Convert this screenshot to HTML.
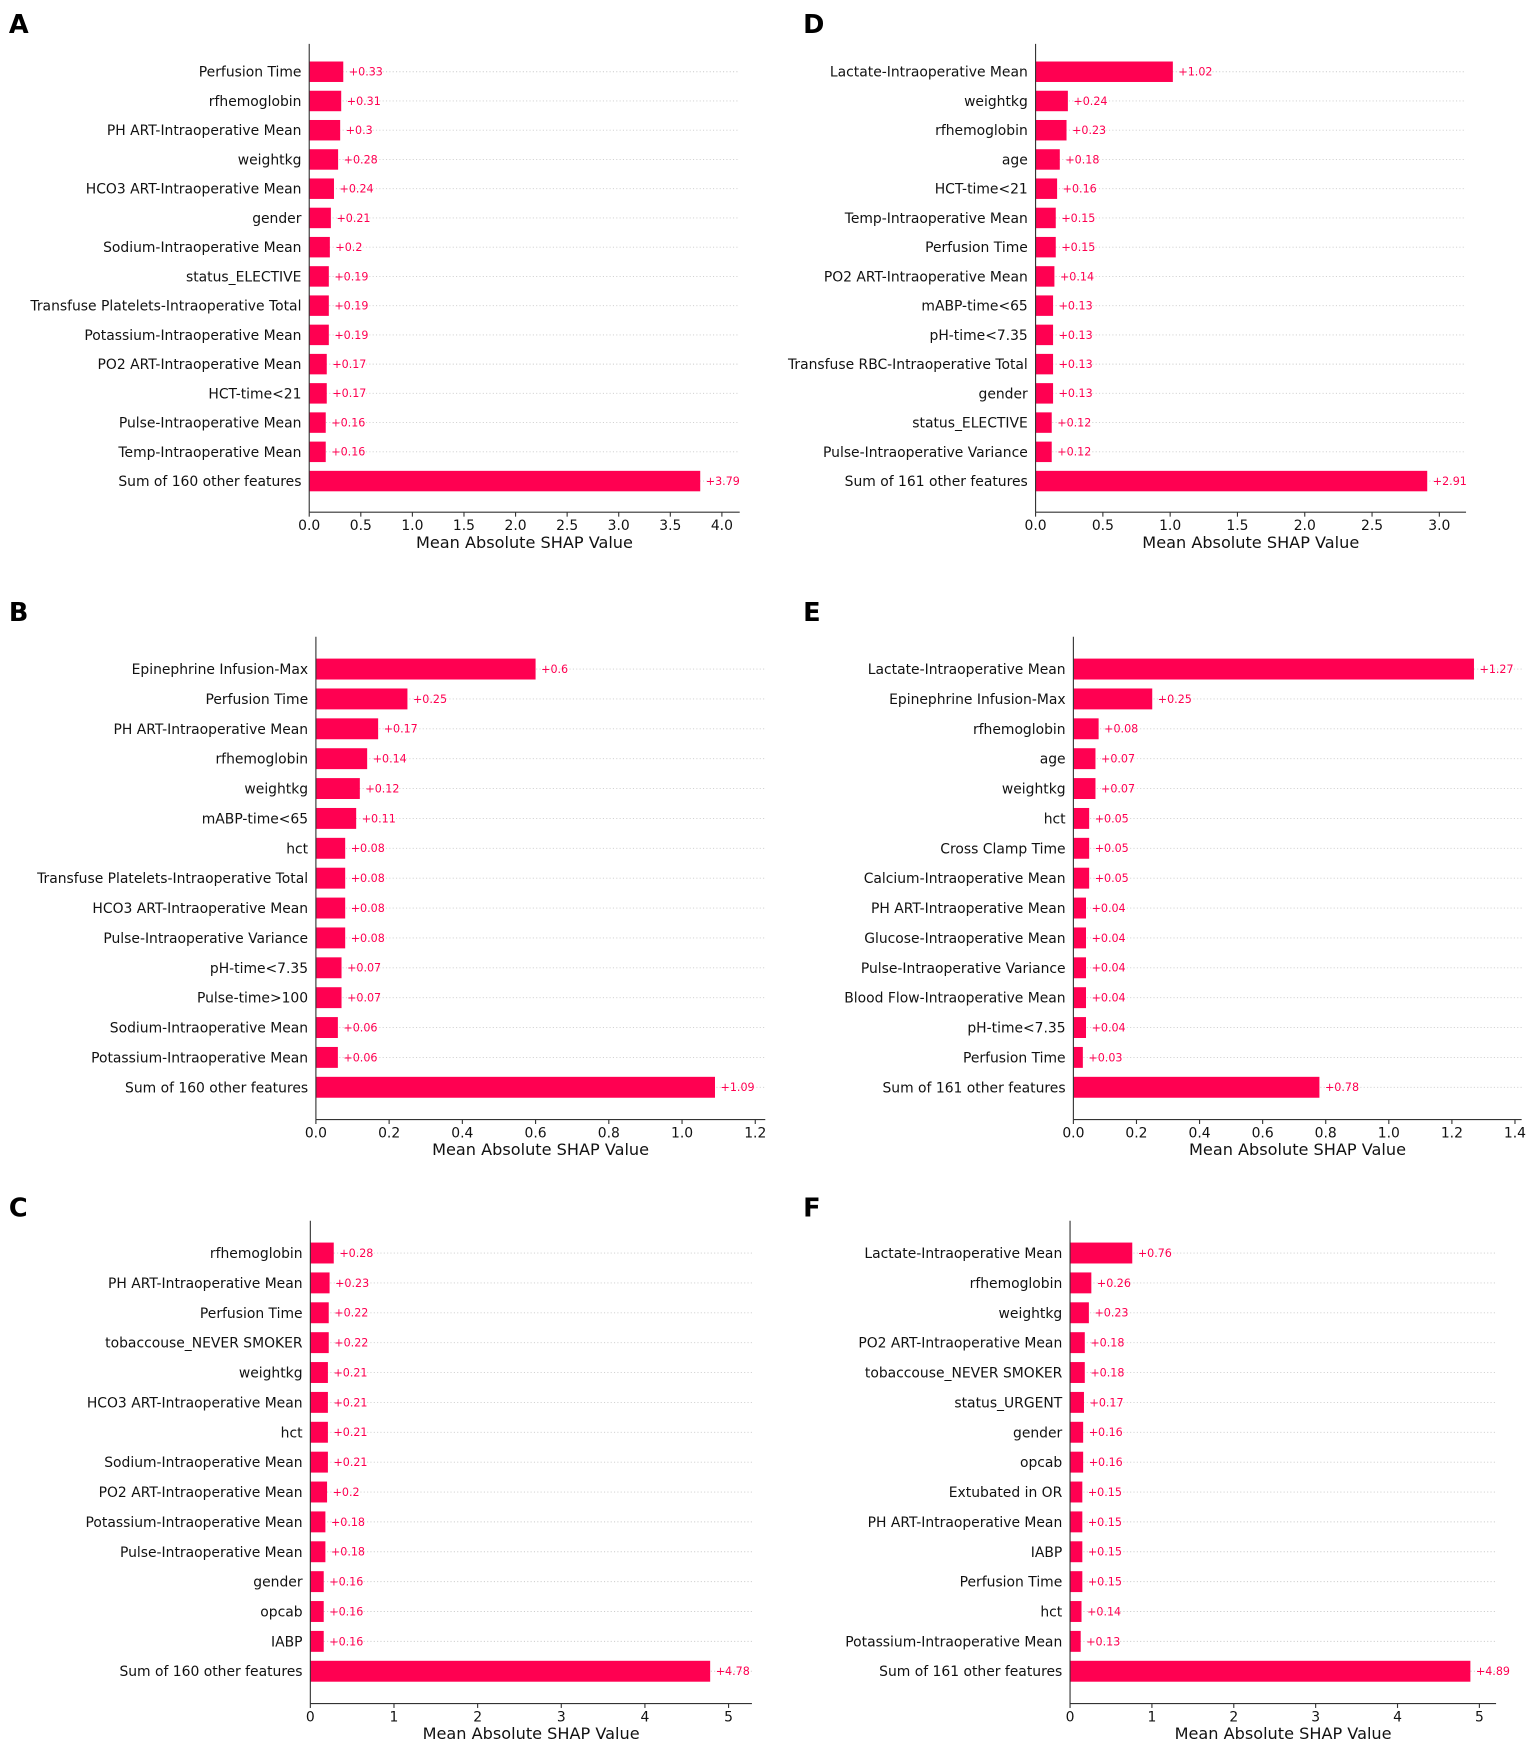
<!DOCTYPE html>
<html><head><meta charset="utf-8"><style>
html,body{margin:0;padding:0;background:#fff;}
svg{display:block;}
text{font-family:"DejaVu Sans","Liberation Sans",sans-serif;}
</style></head><body>
<svg id="fig" width="1535" height="1749" viewBox="0 -1.5 1380 1572.4" preserveAspectRatio="none" xmlns="http://www.w3.org/2000/svg"></svg>
<script>
const namesA=["Perfusion Time","rfhemoglobin","PH ART-Intraoperative Mean","weightkg","HCO3 ART-Intraoperative Mean","gender","Sodium-Intraoperative Mean","status_ELECTIVE","Transfuse Platelets-Intraoperative Total","Potassium-Intraoperative Mean","PO2 ART-Intraoperative Mean","HCT-time<21","Pulse-Intraoperative Mean","Temp-Intraoperative Mean","Sum of 160 other features"];
const valsA=[0.33,0.31,0.3,0.28,0.24,0.21,0.2,0.19,0.19,0.19,0.17,0.17,0.16,0.16,3.79];
const ticksA=[0,0.5,1.0,1.5,2.0,2.5,3.0,3.5,4.0];
const tickLabelsA=["0.0","0.5","1.0","1.5","2.0","2.5","3.0","3.5","4.0"];

const namesB=["Epinephrine Infusion-Max","Perfusion Time","PH ART-Intraoperative Mean","rfhemoglobin","weightkg","mABP-time<65","hct","Transfuse Platelets-Intraoperative Total","HCO3 ART-Intraoperative Mean","Pulse-Intraoperative Variance","pH-time<7.35","Pulse-time>100","Sodium-Intraoperative Mean","Potassium-Intraoperative Mean","Sum of 160 other features"];
const valsB=[0.6,0.25,0.17,0.14,0.12,0.11,0.08,0.08,0.08,0.08,0.07,0.07,0.06,0.06,1.09];
const ticksB=[0,0.2,0.4,0.6,0.8,1.0,1.2];
const tickLabelsB=["0.0","0.2","0.4","0.6","0.8","1.0","1.2"];

const namesC=["rfhemoglobin","PH ART-Intraoperative Mean","Perfusion Time","tobaccouse_NEVER SMOKER","weightkg","HCO3 ART-Intraoperative Mean","hct","Sodium-Intraoperative Mean","PO2 ART-Intraoperative Mean","Potassium-Intraoperative Mean","Pulse-Intraoperative Mean","gender","opcab","IABP","Sum of 160 other features"];
const valsC=[0.28,0.23,0.22,0.22,0.21,0.21,0.21,0.21,0.2,0.18,0.18,0.16,0.16,0.16,4.78];
const ticksC=[0,1,2,3,4,5];
const tickLabelsC=["0","1","2","3","4","5"];

const namesD=["Lactate-Intraoperative Mean","weightkg","rfhemoglobin","age","HCT-time<21","Temp-Intraoperative Mean","Perfusion Time","PO2 ART-Intraoperative Mean","mABP-time<65","pH-time<7.35","Transfuse RBC-Intraoperative Total","gender","status_ELECTIVE","Pulse-Intraoperative Variance","Sum of 161 other features"];
const valsD=[1.02,0.24,0.23,0.18,0.16,0.15,0.15,0.14,0.13,0.13,0.13,0.13,0.12,0.12,2.91];
const ticksD=[0,0.5,1.0,1.5,2.0,2.5,3.0];
const tickLabelsD=["0.0","0.5","1.0","1.5","2.0","2.5","3.0"];

const namesE=["Lactate-Intraoperative Mean","Epinephrine Infusion-Max","rfhemoglobin","age","weightkg","hct","Cross Clamp Time","Calcium-Intraoperative Mean","PH ART-Intraoperative Mean","Glucose-Intraoperative Mean","Pulse-Intraoperative Variance","Blood Flow-Intraoperative Mean","pH-time<7.35","Perfusion Time","Sum of 161 other features"];
const valsE=[1.27,0.25,0.08,0.07,0.07,0.05,0.05,0.05,0.04,0.04,0.04,0.04,0.04,0.03,0.78];
const ticksE=[0,0.2,0.4,0.6,0.8,1.0,1.2,1.4];
const tickLabelsE=["0.0","0.2","0.4","0.6","0.8","1.0","1.2","1.4"];

const namesF=["Lactate-Intraoperative Mean","rfhemoglobin","weightkg","PO2 ART-Intraoperative Mean","tobaccouse_NEVER SMOKER","status_URGENT","gender","opcab","Extubated in OR","PH ART-Intraoperative Mean","IABP","Perfusion Time","hct","Potassium-Intraoperative Mean","Sum of 161 other features"];
const valsF=[0.76,0.26,0.23,0.18,0.18,0.17,0.16,0.16,0.15,0.15,0.15,0.15,0.14,0.13,4.89];
const ticksF=[0,1,2,3,4,5];
const tickLabelsF=["0","1","2","3","4","5"];

const NS="http://www.w3.org/2000/svg";
const svg=document.getElementById('fig');
function mk(parent,tag,attrs){const e=document.createElementNS(NS,tag);for(const k in attrs)e.setAttribute(k,attrs[k]);parent.appendChild(e);return e;}
function fmt(v){return "+"+String(+v.toFixed(2));}

function panel(id,letter,lx,ly,names,vals,ticks,tickLabels,cfg){
  const g=mk(svg,'g',{});
  
  
  const L=mk(g,'text',{x:lx,y:ly,'font-size':23,'font-weight':'bold',fill:'#000'});
  L.textContent=letter;
  
  
  const x0=cfg.x0, unit=(cfg.xTickEnd-x0)/cfg.tickEndVal;
  const xs=v=>x0+v*unit;
  const n=names.length, step=(cfg.yLast-cfg.yFirst)/(n-1), bh=step*0.7;
  const ys=i=>cfg.yFirst+i*step;
  for(let i=0;i<n;i++){
    const y=ys(i);
    const gl=mk(g,'line',{x1:x0,x2:cfg.xRight,y1:y,y2:y,stroke:'#cccccc','stroke-width':0.8,'stroke-dasharray':'1,2'});
    
    
    const b=mk(g,'rect',{x:x0,y:y-bh/2,width:xs(vals[i])-x0,height:bh,fill:'#ff0051'});
    
    
    const t=mk(g,'text',{x:x0-7,y:y+4.5,'font-size':12.5,'text-anchor':'end',fill:'#111'});
    t.textContent=names[i];
    
    
    const v=mk(g,'text',{x:xs(vals[i])+5,y:y+3.5,'font-size':10,fill:'#ff0051'});
    v.textContent=fmt(vals[i]);
    
    
  }
  const ya=mk(g,'line',{x1:x0,x2:x0,y1:cfg.yTop,y2:cfg.yBot,stroke:'#333','stroke-width':1});
  
  
  const xa=mk(g,'line',{x1:x0,x2:cfg.xRight,y1:cfg.yBot,y2:cfg.yBot,stroke:'#333','stroke-width':1});
  
  
  ticks.forEach((tv,j)=>{
    const tx=xs(tv);
    const tk=mk(g,'line',{x1:tx,x2:tx,y1:cfg.yBot,y2:cfg.yBot+4,stroke:'#333','stroke-width':1});
    
    
    const tl=mk(g,'text',{x:tx,y:cfg.yBot+16,'font-size':12.5,'text-anchor':'middle',fill:'#111'});
    tl.textContent=tickLabels[j];
    
    
  });
  const xt=mk(g,'text',{x:(x0+cfg.xRight)/2,y:cfg.yBot+32,'font-size':14.5,'text-anchor':'middle',fill:'#111'});
  xt.textContent='Mean Absolute SHAP Value';
  
  
}

panel('a','A',8,28,namesA,valsA,ticksA,tickLabelsA,{x0:278,xTickEnd:649,tickEndVal:4.0,xRight:665,yFirst:63,yLast:431,yTop:38,yBot:459});
panel('d','D',722,28,namesD,valsD,ticksD,tickLabelsD,{x0:931,xTickEnd:1294,tickEndVal:3.0,xRight:1318,yFirst:63,yLast:431,yTop:38,yBot:459});
panel('b','B',8,557,namesB,valsB,ticksB,tickLabelsB,{x0:284,xTickEnd:679,tickEndVal:1.2,xRight:688,yFirst:600,yLast:976,yTop:571,yBot:1005});
panel('e','E',722,557,namesE,valsE,ticksE,tickLabelsE,{x0:965,xTickEnd:1362,tickEndVal:1.4,xRight:1368,yFirst:600,yLast:976,yTop:571,yBot:1005});
panel('c','C',8,1092,namesC,valsC,ticksC,tickLabelsC,{x0:279,xTickEnd:655,tickEndVal:5,xRight:676,yFirst:1125,yLast:1501,yTop:1096,yBot:1530});
panel('f','F',722,1092,namesF,valsF,ticksF,tickLabelsF,{x0:962,xTickEnd:1330,tickEndVal:5,xRight:1345,yFirst:1125,yLast:1501,yTop:1096,yBot:1530});
</script>
</body></html>
